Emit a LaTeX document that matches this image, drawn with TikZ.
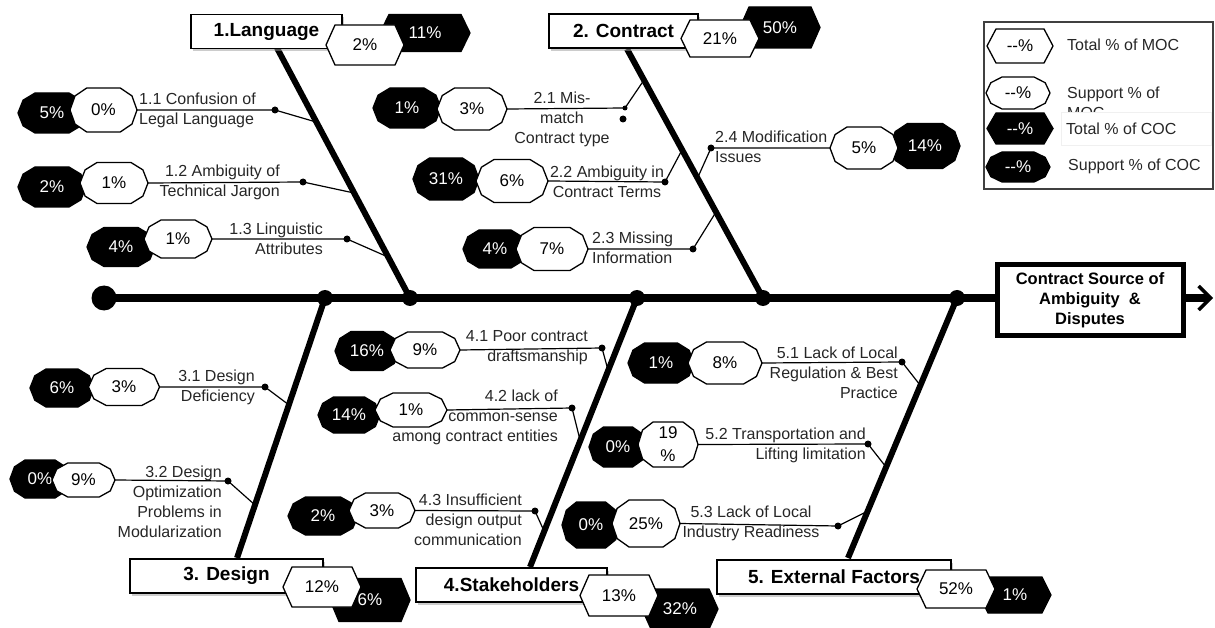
\documentclass[tikz,border=0pt]{standalone}
\usepackage{fontspec}
\setmainfont{Liberation Sans}
\usetikzlibrary{arrows.meta,shadows}

\tikzset{
  spine/.style={line width=7pt},
  bone/.style={line width=6pt},
  link/.style={line width=1.2pt},
  jdot/.style={circle,fill=black,inner sep=0pt,minimum size=16pt},
  tdot/.style={circle,fill=black,inner sep=0pt,minimum size=7pt},
  shapew/.style={draw=black,fill=white,line width=1.3pt},
  shapeb/.style={draw=black,fill=black,line width=1.3pt},
  pctw/.style={font=\fontsize{17}{18}\selectfont,text=black,inner sep=0pt,align=center},
  pctb/.style={pctw,text=white},
  lbl/.style={font=\fontsize{16}{20}\selectfont,inner sep=0pt,text=black!85},
  catbox/.style={draw=black,line width=1.1pt,fill=white,
    font=\fontsize{19}{22}\selectfont\bfseries,inner sep=0pt,minimum height=34pt,
    drop shadow={shadow xshift=2pt,shadow yshift=-3pt,fill=black!40}},
}

% hexagon badge: name, x, y, half width, half height, w/b, text
\newcommand\hexbadge[7]{%
  \draw[shape#6] (#2-#4,#3) -- (#2-#4+9,#3-#5) -- (#2+#4-9,#3-#5) -- (#2+#4,#3)
     -- (#2+#4-9,#3+#5) -- (#2-#4+9,#3+#5) -- cycle;
  \node[pct#6] (#1) at (#2,#3) {#7};
  \coordinate (#1-w) at (#2-#4,#3);
  \coordinate (#1-e) at (#2+#4,#3);
}
% ten-sided badge: name, x, y, half width, half height, w/b, text
\newcommand\decbadge[7]{%
  \draw[shape#6] (#2+#4,#3) -- (#2+0.85*#4,#3-0.64*#5) -- (#2+0.5*#4,#3-#5)
     -- (#2-0.5*#4,#3-#5) -- (#2-0.85*#4,#3-0.64*#5) -- (#2-#4,#3)
     -- (#2-0.85*#4,#3+0.64*#5) -- (#2-0.5*#4,#3+#5) -- (#2+0.5*#4,#3+#5)
     -- (#2+0.85*#4,#3+0.64*#5) -- cycle;
  \node[pct#6] (#1) at (#2,#3) {#7};
  \coordinate (#1-w) at (#2-#4,#3);
  \coordinate (#1-e) at (#2+#4,#3);
}

\begin{document}
\begin{tikzpicture}[x=1pt,y=-1pt]
\useasboundingbox (0,0) rectangle (1215,628);

% ---- effect box and spine ----
\node[draw,line width=5pt,minimum width=186pt,minimum height=70pt,inner sep=0pt,
      align=center,font=\fontsize{16.5}{20}\selectfont\bfseries] (effect) at (1090,300)
      {Contract Source of\\Ambiguity \ \&\\Disputes};
\node[circle,fill=black,inner sep=0pt,minimum size=25pt] (tail) at (104,298) {};
\coordinate (head) at (1213,298);
\draw[spine] (tail.center) -- (tail.center -| effect.west);
\draw[spine,-{Straight Barb[length=12pt,width=24pt,line width=3.5pt]}]
  (tail.center -| effect.east) -- (head);

% ---- main bones ----
\node[jdot] (j3) at (325,298) {};
\node[jdot] (j1) at (410,298) {};
\node[jdot] (j4) at (637,298) {};
\node[jdot] (j2) at (763,298) {};
\node[jdot] (j5) at (957,298) {};
\coordinate (e1) at (277,48);
\coordinate (e2) at (627,49);
\coordinate (e3) at (237,558);
\coordinate (e4) at (530,567);
\coordinate (e5) at (848,558);
\draw[bone] (j1.center) -- (e1);
\draw[bone] (j2.center) -- (e2);
\draw[bone] (j3.center) -- (e3);
\draw[bone] (j4.center) -- (e4);
\draw[bone] (j5.center) -- (e5);

% ---- category boxes with totals ----
\node[catbox,minimum width=151pt] (c1) at (266.5,31.5) {1.Language};
\node[catbox,minimum width=149pt] (c2) at (623.5,31) {2. Contract};
\node[catbox,minimum width=193pt] (c3) at (226.5,576) {3. Design};
\node[catbox,minimum width=191pt] (c4) at (511.5,585) {4.Stakeholders};
\node[catbox,minimum width=234pt] (c5) at (834,577) {5. External Factors};

\hexbadge{t1b}{425}{33}{45}{18.5}{b}{11\%}
\hexbadge{t1w}{365}{45}{39}{20}{w}{2\%}
\hexbadge{t2b}{780}{27.5}{40}{20.5}{b}{50\%}
\hexbadge{t2w}{720}{38.5}{39}{18.5}{w}{21\%}
\hexbadge{t3b}{370}{600}{40}{21.5}{b}{6\%}
\hexbadge{t3w}{322}{587}{39}{20}{w}{12\%}
\hexbadge{t4b}{680}{609}{38}{20}{b}{32\%}
\hexbadge{t4w}{619}{595.5}{39}{20.5}{w}{13\%}
\hexbadge{t5b}{1015}{595}{36}{18}{b}{1\%}
\hexbadge{t5w}{956}{589}{39}{19}{w}{52\%}

% ---- 1. Language ----
\decbadge{s11b}{52}{113}{34}{20}{b}{5\%}
\decbadge{s11w}{103.5}{110}{33.5}{22}{w}{0\%}
\node[tdot] (d11) at (275,110) {};
\coordinate (k11) at (316,122);
\draw[link] (s11w-e) -- (d11.center) -- (k11);
\node[lbl,anchor=west,align=left] (l11) at (139,110) {1.1 Confusion of\\Legal Language};

\decbadge{s12b}{52}{187}{34}{20}{b}{2\%}
\decbadge{s12w}{114}{183}{34}{20.5}{w}{1\%}
\node[tdot] (d12) at (303,182) {};
\coordinate (k12) at (354,193);
\draw[link] (s12w-e) -- (d12.center) -- (k12);
\node[lbl,anchor=east,align=right] (l12) at (280,182) {1.2 Ambiguity of\\Technical Jargon};

\decbadge{s13b}{121}{247}{34}{19.5}{b}{4\%}
\decbadge{s13w}{178}{239}{34}{19}{w}{1\%}
\node[tdot] (d13) at (347,239) {};
\coordinate (k13) at (388,257);
\draw[link] (s13w-e) -- (d13.center) -- (k13);
\node[lbl,anchor=east,align=right] (l13) at (323,239) {1.3 Linguistic\\Attributes};

% ---- 2. Contract ----
\decbadge{s21b}{407}{108}{34}{20}{b}{1\%}
\decbadge{s21w}{472}{109}{35}{21}{w}{3\%}
\node[tdot,minimum size=5pt] (d21) at (625,108) {};
\node[tdot] (d21x) at (623,119) {};
\coordinate (k21) at (644,80);
\draw[link] (s21w-e) -- (d21.center) -- (k21);
\node[lbl,align=center] (l21) at (562,119) {2.1 Mis-\\match\\Contract type};

\decbadge{s22b}{446}{179}{33}{21}{b}{31\%}
\decbadge{s22w}{512}{181}{36}{21.5}{w}{6\%}
\node[tdot] (d22) at (665,182) {};
\coordinate (k22) at (682,150);
\draw[link] (s22w-e) -- (d22.center) -- (k22);
\node[lbl,align=center] (l22) at (607,182) {2.2 Ambiguity in\\Contract Terms};

\decbadge{s23b}{495}{249}{32}{19}{b}{4\%}
\decbadge{s23w}{552}{249}{36}{21.5}{w}{7\%}
\node[tdot] (d23) at (693,249) {};
\coordinate (k23) at (716,212);
\draw[link] (s23w-e) -- (d23.center) -- (k23);
\node[lbl,anchor=west,align=left] (l23) at (592,248) {2.3 Missing\\Information};

\decbadge{s24b}{925}{146}{35}{22.5}{b}{14\%}
\decbadge{s24w}{864}{148}{34}{21}{w}{5\%}
\node[tdot] (d24) at (711,148) {};
\coordinate (k24) at (698,177);
\draw[link] (s24w-w) -- (d24.center) -- (k24);
\node[lbl,anchor=west,align=left] (l24) at (715,147) {2.4 Modification\\Issues};

% ---- 3. Design ----
\decbadge{s31b}{62}{388}{32}{19}{b}{6\%}
\decbadge{s31w}{124}{387}{35.5}{18.5}{w}{3\%}
\node[tdot] (d31) at (265,387) {};
\coordinate (k31) at (289,405);
\draw[link] (s31w-e) -- (d31.center) -- (k31);
\node[lbl,anchor=east,align=right] (l31) at (255,387) {3.1 Design\\Deficiency};

\decbadge{s32b}{40}{479}{30}{19}{b}{0\%}
\decbadge{s32w}{83.5}{480}{31.5}{17}{w}{9\%}
\node[tdot] (d32) at (228,481) {};
\coordinate (k32) at (255,505);
\draw[link] (s32w-e) -- (d32.center) -- (k32);
\node[lbl,anchor=east,align=right] (l32) at (222,502)
  {3.2 Design\\Optimization\\Problems in\\Modularization};

% ---- 4. Stakeholders ----
\decbadge{s41b}{367}{351}{32}{19.5}{b}{16\%}
\decbadge{s41w}{425}{350}{35}{18}{w}{9\%}
\node[tdot] (d41) at (602,348) {};
\coordinate (k41) at (608,370);
\draw[link] (s41w-e) -- (d41.center) -- (k41);
\node[lbl,anchor=east,align=right] (l41) at (588,348) {4.1 Poor contract\\draftsmanship};

\decbadge{s42b}{349}{415}{31}{18}{b}{14\%}
\decbadge{s42w}{411}{410}{36}{17}{w}{1\%}
\node[tdot] (d42) at (572,408) {};
\coordinate (k42) at (580,440);
\draw[link] (s42w-e) -- (d42.center) -- (k42);
\node[lbl,anchor=east,align=right] (l42) at (558,417)
  {4.2 lack of\\common-sense\\among contract entities};

\decbadge{s43b}{323}{516}{35}{19}{b}{2\%}
\decbadge{s43w}{382}{510.5}{33}{17.5}{w}{3\%}
\node[tdot] (d43) at (535,511) {};
\coordinate (k43) at (544,531);
\draw[link] (s43w-e) -- (d43.center) -- (k43);
\node[lbl,anchor=east,align=right] (l43) at (522,520)
  {4.3 Insufficient\\design output\\communication};

% ---- 5. External Factors ----
\decbadge{s51b}{661}{363}{33}{20}{b}{1\%}
\decbadge{s51w}{725}{363}{37}{21}{w}{8\%}
\node[tdot] (d51) at (902,362) {};
\coordinate (k51) at (920,385);
\draw[link] (s51w-e) -- (d51.center) -- (k51);
\node[lbl,anchor=east,align=right] (l51) at (898,373)
  {5.1 Lack of Local\\Regulation \& Best\\Practice};

\decbadge{s52b}{618}{447}{29}{20}{b}{0\%}
\decbadge{s52w}{668}{444.5}{30}{22.5}{w}{19\\[5pt]\%}
\node[tdot] (d52) at (868,444) {};
\coordinate (k52) at (886,467);
\draw[link] (s52w-e) -- (d52.center) -- (k52);
\node[lbl,anchor=east,align=right] (l52) at (866,445)
  {5.2 Transportation and\\Lifting limitation};

\decbadge{s53b}{591}{525}{29}{23}{b}{0\%}
\decbadge{s53w}{646}{523.5}{34}{23.5}{w}{25\%}
\node[tdot] (d53) at (838,526) {};
\coordinate (k53) at (868,511);
\draw[link] (s53w-e) -- (d53.center) -- (k53);
\node[lbl,align=center] (l53) at (751,523) {5.3 Lack of Local\\Industry Readiness};

% ---- legend ----
\node[draw=black!75,line width=1.3pt,minimum width=229pt,minimum height=167pt,
      inner sep=0pt] (legend) at (1098.5,105.5) {};
\hexbadge{g1}{1020}{46}{33}{17}{w}{-{}-\%}
\node[lbl,anchor=west] (g1t) at (1067,45) {Total \% of MOC};
\decbadge{g2}{1018}{93}{32}{16}{w}{-{}-\%}
\node[lbl,anchor=west,align=left] (g2t) at (1067,103) {Support \% of\\MOC};
\node[fill=white,draw=black!6,line width=0.6pt,minimum width=150pt,minimum height=33pt,
      inner sep=0pt] (g3cell) at (1136,129) {};
\hexbadge{g3}{1020}{128.5}{33}{15.5}{b}{-{}-\%}
\node[lbl,anchor=west] (g3t) at (1066,129) {Total \% of COC};
\decbadge{g4}{1018}{167}{32}{15}{b}{-{}-\%}
\node[lbl,anchor=west] (g4t) at (1068,166) {Support \% of COC};
\end{tikzpicture}
\end{document}
